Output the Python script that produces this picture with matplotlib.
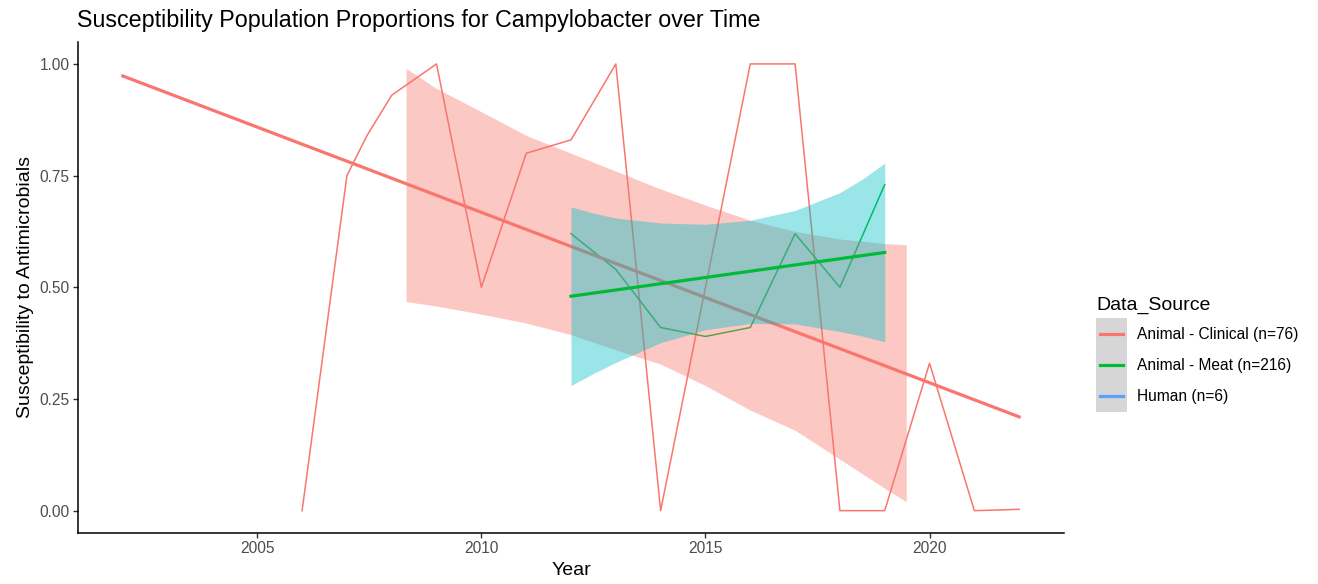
import matplotlib.pyplot as plt
from matplotlib.lines import Line2D
from matplotlib.patches import Patch
from matplotlib.legend_handler import HandlerTuple, HandlerLine2D

plt.rcParams['font.family'] = ['Liberation Sans', 'DejaVu Sans']

# yearly susceptibility proportions
clinical_years = [2006, 2007, 2007.45, 2008, 2009, 2010, 2011, 2012, 2013, 2014,
                  2015, 2016, 2017, 2018, 2019, 2020, 2021, 2022]
clinical_prop = [0.00, 0.75, 0.84, 0.93, 1.00, 0.50, 0.80, 0.83, 1.00, 0.00,
                 0.50, 1.00, 1.00, 0.00, 0.00, 0.33, 0.00, 0.003]

meat_years = [2012, 2013, 2014, 2015, 2016, 2017, 2018, 2019]
meat_prop = [0.62, 0.54, 0.41, 0.39, 0.41, 0.62, 0.50, 0.73]

# linear trends
clinical_fit_years = [2002, 2022]
clinical_fit = [0.973, 0.210]
meat_fit_years = [2012, 2019]
meat_fit = [0.480, 0.578]

# confidence bands around the trends
clinical_band_years = [2008.32, 2009, 2010, 2011, 2012, 2013, 2014, 2015, 2016,
                       2017, 2018, 2019, 2019.48]
clinical_band_hi = [0.990, 0.945, 0.893, 0.840, 0.800, 0.760, 0.720, 0.684, 0.650,
                    0.625, 0.608, 0.598, 0.595]
clinical_band_lo = [0.468, 0.458, 0.440, 0.420, 0.394, 0.360, 0.328, 0.280, 0.225,
                    0.180, 0.115, 0.050, 0.020]

meat_band_years = [2012, 2012.5, 2013, 2014, 2015, 2016, 2017, 2018, 2018.5, 2019]
meat_band_hi = [0.680, 0.666, 0.655, 0.644, 0.641, 0.650, 0.672, 0.712, 0.742, 0.778]
meat_band_lo = [0.280, 0.307, 0.332, 0.376, 0.405, 0.419, 0.418, 0.401, 0.391, 0.378]

sources = ['Animal - Clinical (n=76)', 'Animal - Meat (n=216)', 'Human (n=6)']
colors = ['#F8766D', '#00BA38', '#619CFF']
band_colors = ['#F8766D', '#00BFC4']

x_ticks = [2005, 2010, 2015, 2020]
y_ticks = [0, 0.25, 0.5, 0.75, 1.0]
y_ticklabels = ['0.00', '0.25', '0.50', '0.75', '1.00']


class CenteredLine(HandlerLine2D):
    # put the key line through the middle of the grey square
    def create_artists(self, legend, orig_handle, xdescent, ydescent,
                       width, height, fontsize, trans):
        return super().create_artists(legend, orig_handle, xdescent, ydescent,
                                      width, height - ydescent, fontsize, trans)


W, H = 1318, 584
fig = plt.figure(figsize=(W / 100, H / 100), dpi=100)
ax = fig.add_axes([78 / W, 1 - 533 / H, (1064 - 78) / W, (533 - 41.6) / H])

# raw lines first, smoothers on top
ax.plot(clinical_years, clinical_prop, color=colors[0], lw=1.1, zorder=2)
ax.plot(meat_years, meat_prop, color=colors[1], lw=1.1, zorder=2)

ax.fill_between(clinical_band_years, clinical_band_lo, clinical_band_hi,
                color=band_colors[0], alpha=0.4, lw=0, zorder=3)
ax.plot(clinical_fit_years, clinical_fit, color=colors[0], lw=2.3, zorder=4)

ax.fill_between(meat_band_years, meat_band_lo, meat_band_hi,
                color=band_colors[1], alpha=0.4, lw=0, zorder=5)
ax.plot(meat_fit_years, meat_fit, color=colors[1], lw=2.3, zorder=6)

ax.set_xlim(2001, 2023)
ax.set_ylim(-0.05, 1.05)
ax.set_xticks(x_ticks)
ax.set_yticks(y_ticks)
ax.set_yticklabels(y_ticklabels)

for side in ['top', 'right']:
    ax.spines[side].set_visible(False)
for side in ['left', 'bottom']:
    ax.spines[side].set_linewidth(1.1)
    ax.spines[side].set_color('black')
ax.tick_params(length=3.5, width=1.0, color='#333333', labelcolor='#4D4D4D',
               labelsize=11.2, pad=2.5)

ax.set_xlabel('Year', fontsize=14, labelpad=4)
ax.set_ylabel('Susceptibility to Antimicrobials', fontsize=14, labelpad=4)

fig.text(77 / W, 1 - 27 / H,
         'Susceptibility Population Proportions for Campylobacter over Time',
         fontsize=16.75, ha='left', va='baseline')

# legend keys: grey ribbon square with the series line across it
handles = [(Patch(facecolor='#D6D6D6', edgecolor='none'),
            Line2D([], [], color=c, lw=2.3)) for c in colors]
leg = fig.legend(handles, sources, title='Data_Source',
                 handler_map={tuple: HandlerTuple(ndivide=1, pad=0),
                              Line2D: CenteredLine(marker_pad=0.25, numpoints=2)},
                 loc='upper left', bbox_to_anchor=(1096 / W, 1 - 297 / H),
                 frameon=False, fontsize=11.2, title_fontsize=14,
                 handlelength=2.0, handleheight=2.7, labelspacing=0.0,
                 handletextpad=0.65, borderpad=0, borderaxespad=0,
                 alignment='left')
leg._legend_box.sep = 3

fig.savefig('out.png', dpi=100)
